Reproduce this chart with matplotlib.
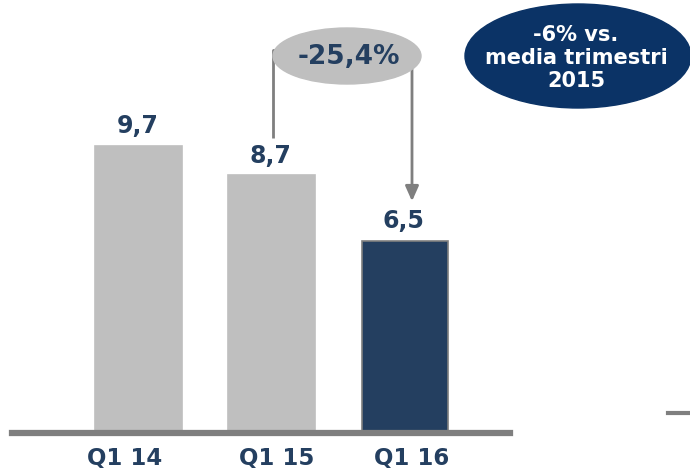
import matplotlib
matplotlib.use('Agg')
from matplotlib import pyplot as plt
from matplotlib.patches import Ellipse

# Chart data
quarters = ['Q1 14', 'Q1 15', 'Q1 16']
values = [9.7, 8.7, 6.5]
value_labels = ['9,7', '8,7', '6,5']
change_label = '-25,4%'
note_label = '-6% vs.\nmedia trimestri\n2015'

navy = '#243F60'
grey_bar = '#BFBFBF'
grey_line = '#7F7F7F'

fig = plt.figure(figsize=(6.9, 4.73), dpi=100)

# Main bar axes (baseline at y=433 px)
W, H = 690, 473
ax = fig.add_axes([12 / W, (H - 433) / H, (510 - 12) / W, 433 / H])
x = list(range(len(quarters)))
colors = [grey_bar, grey_bar, navy]
edges = [grey_bar, grey_bar, grey_line]
ax.bar(x, values, width=0.65, color=colors, edgecolor=edges, linewidth=1.2, zorder=2)
ax.set_xlim(-0.951, 2.79)
ax.set_ylim(0, 433 / 29.6)

for xi, v, lab in zip(x, values, value_labels):
    ax.text(xi - 0.01, v + 0.25, lab, ha='center', va='bottom', fontsize=17,
            fontweight='bold', color=navy)

# Thick baseline
ax.axhline(0, color=grey_line, linewidth=4.5, clip_on=False, zorder=3)
# category labels sit slightly off the bar centres in the original
label_shift = [-0.105, 0.034, 0.053]
ax.set_xticks([xi + d for xi, d in zip(x, label_shift)])
ax.set_xticklabels(quarters, fontsize=16.5, fontweight='bold', color=navy)
ax.tick_params(axis='x', length=0, pad=10)
ax.set_yticks([])
for s in ax.spines.values():
    s.set_visible(False)
ax.patch.set_alpha(0)

# Overlay axes in pixel coordinates for annotations
ov = fig.add_axes([0, 0, 1, 1])
ov.set_xlim(0, W)
ov.set_ylim(H, 0)
ov.axis('off')
ov.patch.set_alpha(0)

# Connector from Q1 15 to Q1 16
ov.plot([273, 273, 280], [138, 50, 50], color=grey_line, lw=2, solid_capstyle='butt')
ov.annotate('', xy=(412, 204), xytext=(412, 66),
            arrowprops=dict(arrowstyle='-|>,head_length=0.9,head_width=0.4',
                            color=grey_line, lw=2))

ov.add_patch(Ellipse((347, 56), 148, 56, color=grey_bar, zorder=3))
ov.text(349, 57, change_label, ha='center', va='center', fontsize=19,
        fontweight='bold', color=navy, zorder=4)

# Navy note bubble
ov.add_patch(Ellipse((578, 56), 226, 104, color='#0B3366', zorder=3))
ov.text(576, 58, note_label, ha='center', va='center', fontsize=15,
        fontweight='bold', color='white', linespacing=1.18, zorder=4)

# Small dash at right edge
ov.plot([668, 690], [413, 413], color=grey_line, lw=3)

fig.savefig('out.png', dpi=100)
